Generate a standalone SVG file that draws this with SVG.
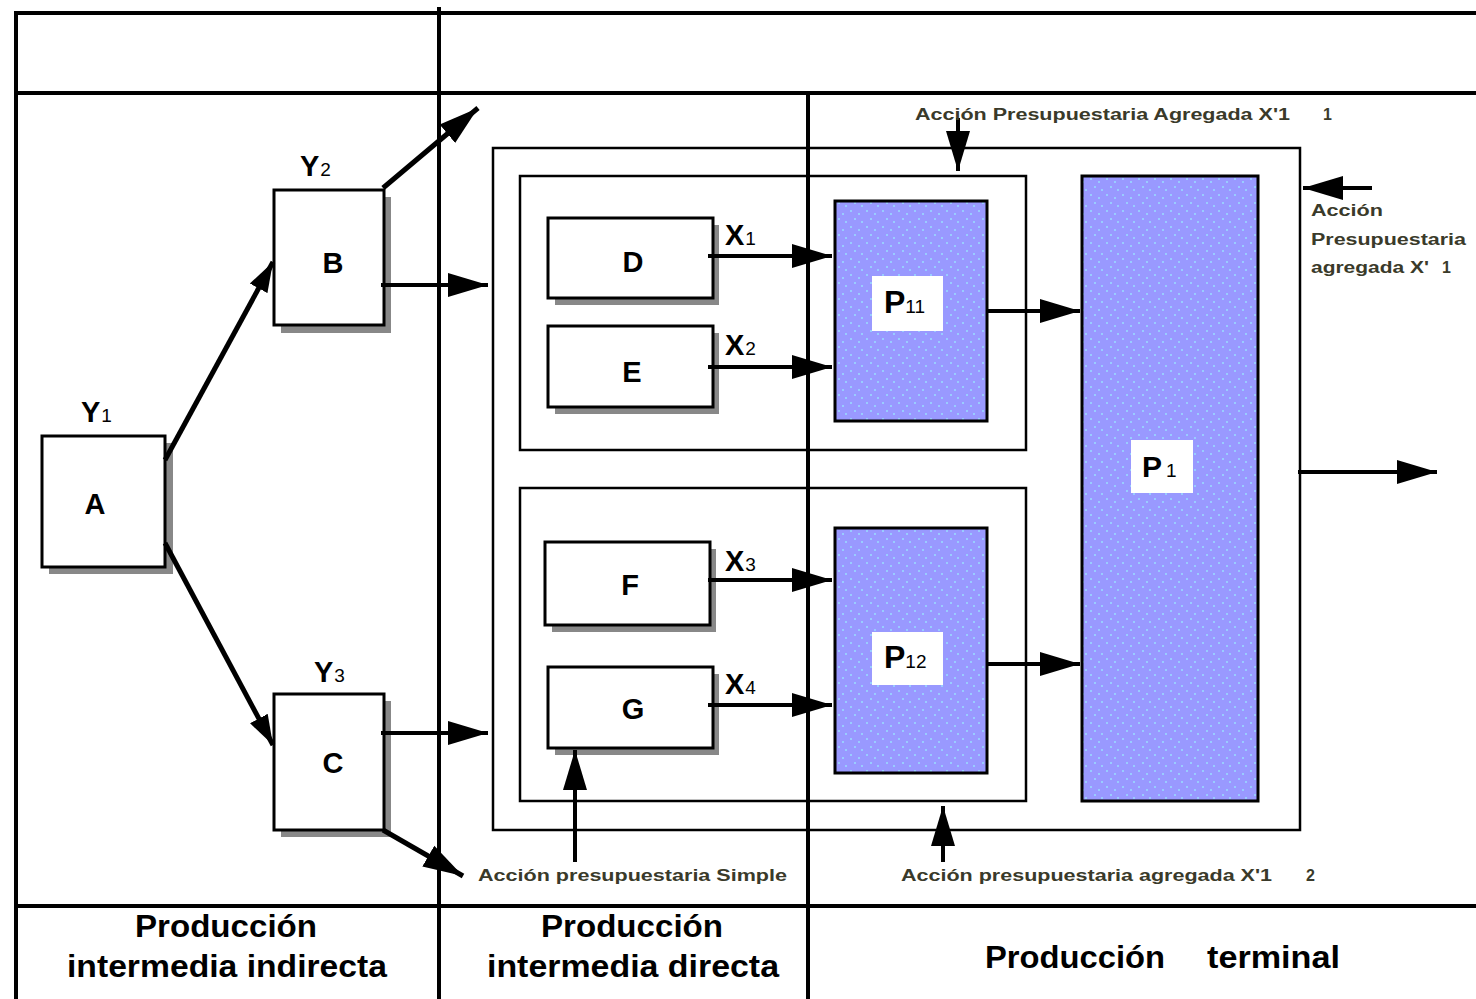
<svg xmlns="http://www.w3.org/2000/svg" width="1476" height="999" viewBox="0 0 1476 999">
<defs>
<style>
.frame{stroke:#000;stroke-width:4;fill:none}
.box{fill:#fff;stroke:#000;stroke-width:3}
.shadow{fill:#888}
.cont{fill:none;stroke:#000;stroke-width:2.5}
.blue{fill:url(#dots);stroke:#000;stroke-width:3}
.lbl{fill:#fff}
.conn{stroke:#000;stroke-width:4;fill:none}
.diag{stroke:#000;stroke-width:5;fill:none}
.t{font-family:"Liberation Sans",Arial,sans-serif;font-weight:bold;fill:#000}
.big{font-size:29px}
.sub{font-family:"Liberation Sans",Arial,sans-serif;font-weight:normal;font-size:19px;fill:#000}
.note{font-family:"Liberation Sans",Arial,sans-serif;font-weight:bold;font-size:16px;fill:#3a3a2a}
.cap{font-family:"Liberation Sans",Arial,sans-serif;font-weight:bold;font-size:31px;fill:#000}
</style>
<pattern id="dots" width="16" height="16" patternUnits="userSpaceOnUse">
<rect width="16" height="16" fill="#9999ff"/>
<rect x="2" y="2" width="2" height="2" fill="#99ccff"/>
<rect x="10" y="5" width="2" height="2" fill="#99ccff"/>
<rect x="6" y="10" width="2" height="2" fill="#99ccff"/>
<rect x="13" y="13" width="2" height="2" fill="#99ccff"/>
</pattern>
<marker id="ah" markerUnits="userSpaceOnUse" markerWidth="42" markerHeight="26" refX="40" refY="13" orient="auto">
<path d="M0,1 L40,13 L0,25 z" fill="#000"/>
</marker>
<marker id="ahs" markerUnits="userSpaceOnUse" markerWidth="32" markerHeight="22" refX="30" refY="11" orient="auto">
<path d="M0,1 L30,11 L0,21 z" fill="#000"/>
</marker>
</defs>
<rect width="1476" height="999" fill="#fff"/>

<g id="frame">
<line class="frame" x1="14" y1="13" x2="1476" y2="13"/>
<line class="frame" x1="16" y1="13" x2="16" y2="999"/>
<line class="frame" x1="439" y1="7" x2="439" y2="999"/>
<line class="frame" x1="16" y1="93" x2="1476" y2="93"/>
<line class="frame" x1="808" y1="93" x2="808" y2="999"/>
<line class="frame" x1="16" y1="906" x2="1476" y2="906"/>
</g>

<g id="containers">
<rect class="cont" x="493" y="148" width="807" height="682"/>
<rect class="cont" x="520" y="176" width="506" height="274"/>
<rect class="cont" x="520" y="488" width="506" height="313"/>
</g>

<g id="node-A">
<rect class="shadow" x="49" y="443" width="124" height="131"/>
<rect class="box" x="42" y="436" width="123" height="131"/>
<text class="t big" x="95" y="514" text-anchor="middle">A</text>
<text class="t big" x="81" y="422">Y<tspan class="sub" dx="1">1</tspan></text>
</g>
<g id="node-B">
<rect class="shadow" x="281" y="197" width="110" height="136"/>
<rect class="box" x="274" y="190" width="110" height="135"/>
<text class="t big" x="333" y="273" text-anchor="middle">B</text>
<text class="t big" x="300" y="176">Y<tspan class="sub" dx="1">2</tspan></text>
</g>
<g id="node-C">
<rect class="shadow" x="281" y="701" width="110" height="136"/>
<rect class="box" x="274" y="694" width="110" height="136"/>
<text class="t big" x="333" y="773" text-anchor="middle">C</text>
<text class="t big" x="314" y="682">Y<tspan class="sub" dx="1">3</tspan></text>
</g>
<g id="node-D">
<rect class="shadow" x="555" y="225" width="164" height="80"/>
<rect class="box" x="548" y="218" width="165" height="80"/>
<text class="t big" x="633" y="272" text-anchor="middle">D</text>
<text class="t big" x="725" y="245">X<tspan class="sub" dx="1">1</tspan></text>
</g>
<g id="node-E">
<rect class="shadow" x="555" y="333" width="164" height="81"/>
<rect class="box" x="548" y="326" width="165" height="81"/>
<text class="t big" x="632" y="382" text-anchor="middle">E</text>
<text class="t big" x="725" y="355">X<tspan class="sub" dx="1">2</tspan></text>
</g>
<g id="node-F">
<rect class="shadow" x="552" y="549" width="164" height="83"/>
<rect class="box" x="545" y="542" width="165" height="83"/>
<text class="t big" x="630" y="595" text-anchor="middle">F</text>
<text class="t big" x="725" y="571">X<tspan class="sub" dx="1">3</tspan></text>
</g>
<g id="node-G">
<rect class="shadow" x="555" y="674" width="164" height="81"/>
<rect class="box" x="548" y="667" width="165" height="81"/>
<text class="t big" x="633" y="719" text-anchor="middle">G</text>
<text class="t big" x="725" y="694">X<tspan class="sub" dx="1">4</tspan></text>
</g>
<g id="node-P11">
<rect class="blue" x="835" y="201" width="152" height="220"/>
<rect class="lbl" x="872" y="276" width="71" height="55"/>
<text class="t" font-size="32" x="884" y="313">P<tspan class="sub" font-size="20">11</tspan></text>
</g>
<g id="node-P12">
<rect class="blue" x="835" y="528" width="152" height="245"/>
<rect class="lbl" x="872" y="632" width="71" height="53"/>
<text class="t" font-size="32" x="884" y="668">P<tspan class="sub" font-size="20">12</tspan></text>
</g>
<g id="node-P1">
<rect class="blue" x="1082" y="176" width="176" height="625"/>
<rect class="lbl" x="1131" y="440" width="62" height="53"/>
<text class="t" font-size="30" x="1142" y="477">P<tspan class="sub" font-size="20" dx="4">1</tspan></text>
</g>

<g id="connectors">
<line class="diag" x1="165" y1="460" x2="273" y2="262" marker-end="url(#ahs)"/>
<line class="diag" x1="165" y1="543" x2="273" y2="745" marker-end="url(#ahs)"/>
<line class="diag" x1="383" y1="188" x2="478" y2="108" marker-end="url(#ah)"/>
<line class="conn" x1="381" y1="285" x2="488" y2="285" marker-end="url(#ah)"/>
<line class="conn" x1="381" y1="733" x2="488" y2="733" marker-end="url(#ah)"/>
<line class="diag" x1="383" y1="830" x2="463" y2="876" marker-end="url(#ah)"/>
<line class="conn" x1="708" y1="256" x2="832" y2="256" marker-end="url(#ah)"/>
<line class="conn" x1="708" y1="367" x2="832" y2="367" marker-end="url(#ah)"/>
<line class="conn" x1="708" y1="580" x2="832" y2="580" marker-end="url(#ah)"/>
<line class="conn" x1="708" y1="705" x2="832" y2="705" marker-end="url(#ah)"/>
<line class="conn" x1="987" y1="311" x2="1080" y2="311" marker-end="url(#ah)"/>
<line class="conn" x1="987" y1="664" x2="1080" y2="664" marker-end="url(#ah)"/>
<line class="conn" x1="1298" y1="472" x2="1437" y2="472" marker-end="url(#ah)"/>
<line class="conn" x1="958" y1="118" x2="958" y2="171" marker-end="url(#ah)"/>
<line class="conn" x1="1372" y1="188" x2="1303" y2="188" marker-end="url(#ah)"/>
<line class="conn" x1="943" y1="862" x2="943" y2="806" marker-end="url(#ah)"/>
<line class="conn" x1="575" y1="862" x2="575" y2="750" marker-end="url(#ah)"/>
</g>

<g id="notes">
<text class="note" x="915" y="120" textLength="375" lengthAdjust="spacingAndGlyphs">Acción Presupuestaria Agregada X'1</text>
<text class="note" font-size="12" x="1323" y="120">1</text>
<text class="note" x="1311" y="216" textLength="72" lengthAdjust="spacingAndGlyphs">Acción</text>
<text class="note" x="1311" y="245" textLength="155" lengthAdjust="spacingAndGlyphs">Presupuestaria</text>
<text class="note" x="1311" y="273" textLength="118" lengthAdjust="spacingAndGlyphs">agregada X'</text>
<text class="note" font-size="12" x="1442" y="273">1</text>
<text class="note" x="478" y="881" textLength="309" lengthAdjust="spacingAndGlyphs">Acción presupuestaria Simple</text>
<text class="note" x="901" y="881" textLength="371" lengthAdjust="spacingAndGlyphs">Acción presupuestaria agregada X'1</text>
<text class="note" font-size="12" x="1306" y="881">2</text>
</g>

<g id="captions">
<text class="cap" x="135" y="937" textLength="182" lengthAdjust="spacingAndGlyphs">Producción</text>
<text class="cap" x="67" y="977" textLength="320" lengthAdjust="spacingAndGlyphs">intermedia indirecta</text>
<text class="cap" x="541" y="937" textLength="182" lengthAdjust="spacingAndGlyphs">Producción</text>
<text class="cap" x="487" y="977" textLength="292" lengthAdjust="spacingAndGlyphs">intermedia directa</text>
<text class="cap" x="985" y="968" textLength="180" lengthAdjust="spacingAndGlyphs">Producción</text>
<text class="cap" x="1207" y="968" textLength="133" lengthAdjust="spacingAndGlyphs">terminal</text>
</g>
</svg>
